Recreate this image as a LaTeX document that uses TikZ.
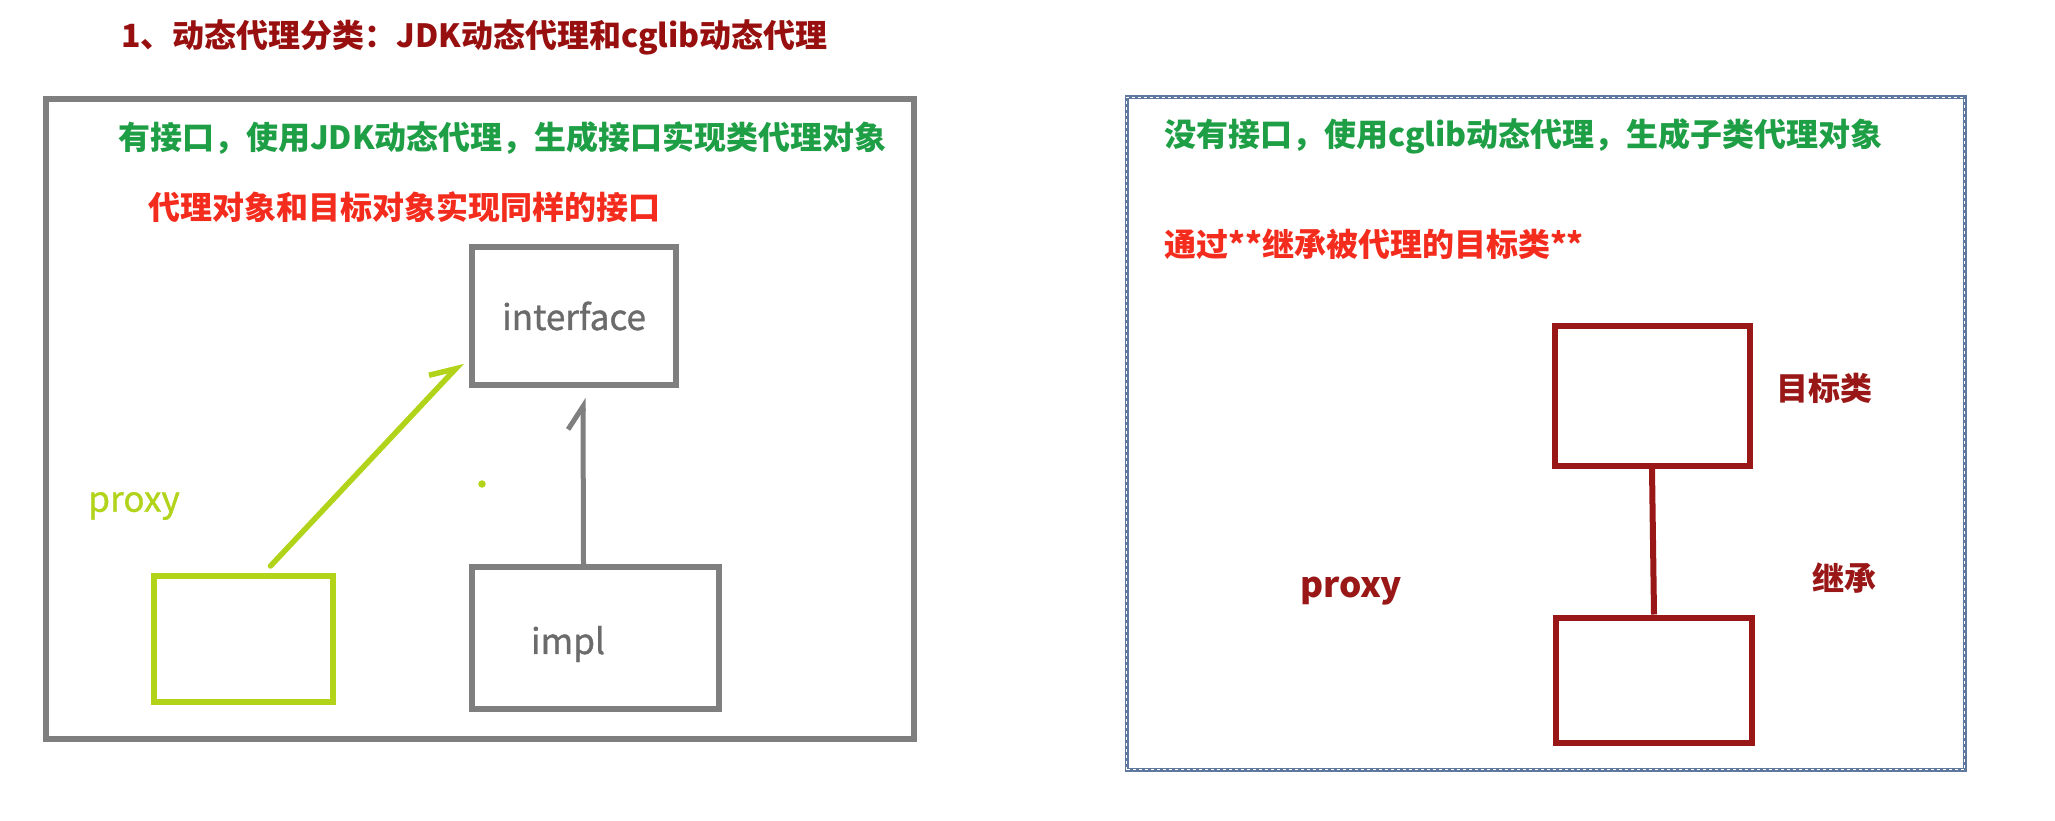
\documentclass[tikz,border=0pt]{standalone}
\usepackage{fontspec}
\setmainfont{Noto Sans CJK SC}
\newfontfamily\tagfont[FakeBold=1]{Noto Sans CJK SC}
\usetikzlibrary{arrows.meta}

\definecolor{titlered}{HTML}{980F0F}
\definecolor{jdkgreen}{HTML}{1E9E45}
\definecolor{notered}{HTML}{F42C1E}
\definecolor{boxgray}{HTML}{7F7F7F}
\definecolor{labelgray}{HTML}{6B6B6B}
\definecolor{lime}{HTML}{B1D41A}
\definecolor{darkred}{HTML}{9A1717}
\definecolor{framegray}{HTML}{5F789F}

\begin{document}
\begin{tikzpicture}[x=0.2mm, y=-0.2mm,
	every node/.style={inner sep=0pt, font=\fontsize{18.2}{22}\selectfont\bfseries},
	>={Straight Barb[harpoon, length=4.6mm, width=6mm]},
	box/.style={draw, line width=1.2mm},
	note/.style={anchor=west},
	tag/.style={font=\fontsize{20}{24}\selectfont\tagfont}]
	\useasboundingbox[fill=white] (0,0) rectangle (2055,821);
	\node[note, titlered] (title) at (121,37) {1、动态代理分类：JDK动态代理和cglib动态代理};

	% JDK side
	\node[box, boxgray, minimum width=173.6mm, minimum height=128mm] (jdk) at (480,419) {};
	\node[note, jdkgreen] (jdknote) at (118,138) {有接口，使用JDK动态代理，生成接口实现类代理对象};
	\node[note, notered] (jdkrule) at (148,207) {代理对象和目标对象实现同样的接口};
	\node[box, boxgray, minimum width=40.8mm, minimum height=27.6mm, tag, text=labelgray] (interface) at (574,316) {interface};
	\node[box, boxgray, minimum width=49.4mm, minimum height=28.4mm] (impl) at (595.5,638) {};
	\node[tag, labelgray] (impltext) at (568,644) {impl};
	\node[box, lime, minimum width=35.8mm, minimum height=25.2mm] (proxy) at (243.5,639) {};
	\node[tag, lime] (proxytext) at (134,506) {proxy};
	\fill[lime] (482,484) circle (0.75mm);
	\draw[->, lime, line width=1.1mm, line cap=round] ([xshift=5.4mm, yshift=1.4mm]proxy.north) -- ([xshift=-1.4mm, yshift=5.2mm]interface.south west);
	\draw[->, boxgray, line width=1mm, line cap=round] ([xshift=-2.4mm]impl.north) -- ([xshift=1.8mm, yshift=-2mm]interface.south);

	% cglib side
	\node[draw=framegray, line width=0.8mm, minimum width=167.6mm, minimum height=134.4mm,
		postaction={draw=white, line width=0.25mm, dash pattern=on 0.6mm off 0.6mm}] (cglib) at (1545.5,433.5) {};
	\node[note, jdkgreen] (cglibnote) at (1164,136) {没有接口，使用cglib动态代理，生成子类代理对象};
	\node[note, notered] (cglibrule) at (1164,244) {通过**继承被代理的目标类**};
	\node[box, darkred, minimum width=39mm, minimum height=28mm] (target) at (1652,396) {};
	\node[box, darkred, minimum width=39.2mm, minimum height=25mm] (sub) at (1654,680) {};
	\draw[darkred, line width=1.2mm] (target.south) -- (sub.north);
	\node[darkred] (targettext) at (1824,388) {目标类};
	\node[darkred] (extendtext) at (1844,578) {继承};
	\node[darkred, font=\fontsize{20}{24}\selectfont\bfseries] (subtext) at (1351,591) {proxy};
\end{tikzpicture}
\end{document}
